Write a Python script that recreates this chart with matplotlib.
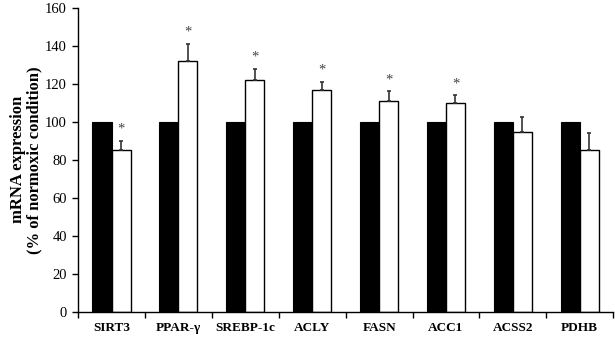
import numpy as np
import matplotlib.pyplot as plt

plt.rcParams['font.family'] = ['Liberation Serif', 'DejaVu Serif']

genes = ['SIRT3', 'PPAR-γ', 'SREBP-1c', 'ACLY', 'FASN', 'ACC1', 'ACSS2', 'PDHB']
normoxic = [100, 100, 100, 100, 100, 100, 100, 100]
hypoxic = [85, 132, 122, 117, 111, 110, 94.5, 85]
hypoxic_err = [5, 9, 6, 4, 5, 4, 8, 9]
significant = [True, True, True, True, True, True, False, False]

fig = plt.figure(figsize=(6.15, 3.38), dpi=100)
ax = fig.add_axes([0.127, 0.077, 0.87, 0.9])

x = np.arange(len(genes)) + 0.5
w = 0.285
ax.bar(x - w / 2, normoxic, w, color='black', edgecolor='black', linewidth=0.8)
ax.bar(x + w / 2, hypoxic, w, color='white', edgecolor='black', linewidth=1.0,
       yerr=[np.zeros(len(genes)), hypoxic_err], ecolor='#333333',
       error_kw=dict(elinewidth=1.2, capsize=1.5, capthick=1.2))

for xi, v, e, s in zip(x, hypoxic, hypoxic_err, significant):
    if s:
        ax.text(xi + w / 2, v + e + 6, '*', ha='center', va='center',
                fontsize=10.5, color='#444444')

ax.set_xlim(0, len(genes))
ax.set_ylim(0, 160)
ax.set_yticks(range(0, 161, 20))
ax.set_xticks(np.arange(len(genes) + 1))
ax.set_xticklabels([])
ax.set_xticks(x, minor=True)
ax.set_xticklabels(genes, minor=True, fontweight='bold', fontsize=9.5)
ax.tick_params(axis='x', which='minor', length=0, pad=7)
ax.tick_params(axis='x', which='major', direction='out', length=4, width=1)
ax.tick_params(axis='y', direction='out', length=4, width=1, labelsize=10.5, pad=4)

for side in ['top', 'right']:
    ax.spines[side].set_visible(False)
for side in ['left', 'bottom']:
    ax.spines[side].set_linewidth(1)

ax.set_ylabel('mRNA expression\n(% of normoxic condition)', fontweight='bold',
              fontsize=12, linespacing=1.0, labelpad=2)

fig.savefig('out.png', dpi=100)
